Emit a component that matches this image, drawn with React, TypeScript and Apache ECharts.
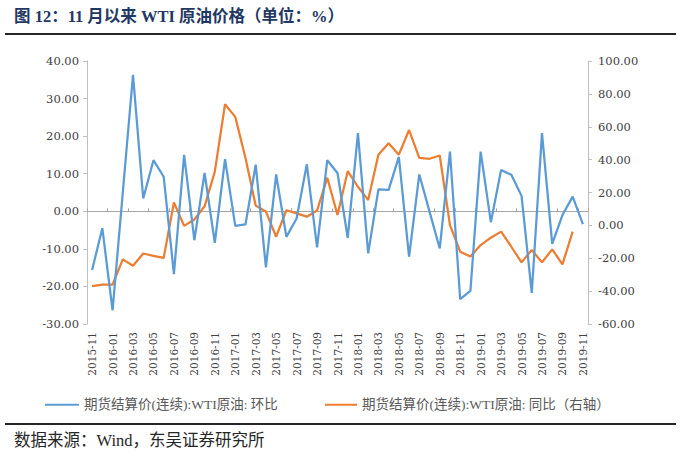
import React, { useEffect, useRef } from "react";
import * as echarts from "echarts";

const months: string[] = [
  "2015-11", "2015-12", "2016-01", "2016-02", "2016-03", "2016-04", "2016-05", "2016-06", "2016-07", "2016-08",
  "2016-09", "2016-10", "2016-11", "2016-12", "2017-01", "2017-02", "2017-03", "2017-04", "2017-05", "2017-06",
  "2017-07", "2017-08", "2017-09", "2017-10", "2017-11", "2017-12", "2018-01", "2018-02", "2018-03", "2018-04",
  "2018-05", "2018-06", "2018-07", "2018-08", "2018-09", "2018-10", "2018-11", "2018-12", "2019-01", "2019-02",
  "2019-03", "2019-04", "2019-05", "2019-06", "2019-07", "2019-08", "2019-09", "2019-10", "2019-11",
];

// 环比 (left axis)
const momChange: number[] = [
  -15.6, -4.5, -26.4, 5.0, 36.3, 3.4, 13.6, 9.2, -16.7, 15.0,
  -7.7, 10.2, -8.4, 13.9, -3.9, -3.5, 12.4, -14.9, 9.8, -6.8,
  -1.9, 12.5, -9.6, 13.6, 10.2, -7.1, 20.8, -11.2, 5.8, 5.7,
  14.5, -12.1, 9.8, -0.1, -9.9, 15.9, -23.4, -21.2, 15.9, -2.9,
  11.0, 9.7, 4.1, -21.7, 20.8, -8.7, -1.0, 3.9, -3.4,
];

// 同比 (right axis)
const yoyChange: (number | null)[] = [
  -37.0, -36.0, -36.0, -20.7, -24.6, -17.1, -18.5, -19.8, 13.9, -0.3,
  3.6, 11.6, 32.7, 73.7, 66.0, 41.0, 12.0, 8.4, -6.9, 9.2,
  7.3, 5.3, 9.0, 29.0, 6.3, 33.0, 23.5, 15.4, 43.0, 50.0,
  43.0, 58.0, 41.0, 40.5, 42.5, 0.2, -16.0, -19.0, -12.0, -7.5,
  -3.8, -13.0, -22.5, -15.0, -22.5, -14.6, -23.7, -3.8, null,
];

const leftAxisRange = { min: -30, max: 40, interval: 10 };
const rightAxisRange = { min: -60, max: 100, interval: 20 };

const seriesNames = [
  "期货结算价(连续):WTI原油: 环比",
  "期货结算价(连续):WTI原油: 同比（右轴）",
];

const titleText = "图 12：11 月以来 WTI 原油价格（单位：%）";
const sourceText = "数据来源：Wind，东吴证券研究所";

const BLUE = "#5B9BD5";
const ORANGE = "#ED7D31";
const AXIS_GRAY = "#BFBFBF";
const LABEL = "#404040";
const NUM_FONT = '"DejaVu Serif", "Liberation Serif", serif';
const CJK_FONT = '"Liberation Serif", "Noto Sans CJK SC", serif';

export default function App() {
  const ref = useRef<HTMLDivElement>(null);

  useEffect(() => {
    document.body.style.margin = "0";
    if (!ref.current) return;
    const chart = echarts.init(ref.current, undefined, { renderer: "svg" });
    const fmt = (v: number) => v.toFixed(2);
    chart.setOption({
      animation: false,
      backgroundColor: "#ffffff",
      grid: { left: 87, right: 92, top: 61, bottom: 139, containLabel: false },
      legend: [
        {
          data: [seriesNames[0]],
          left: 40,
          top: 393,
          icon: "rect",
          itemWidth: 34,
          itemHeight: 2,
          itemGap: 4,
          textStyle: { color: "#595959", fontSize: 13.5, fontFamily: CJK_FONT },
        },
        {
          data: [seriesNames[1]],
          left: 320,
          top: 393,
          icon: "rect",
          itemWidth: 32,
          itemHeight: 2,
          textStyle: { color: "#595959", fontSize: 13.5, fontFamily: CJK_FONT },
        },
      ],
      xAxis: [
        {
          type: "category",
          data: months,
          boundaryGap: true,
          position: "bottom",
          axisLine: { show: false },
          axisTick: { show: false },
          splitLine: { show: false },
          axisLabel: {
            interval: 1,
            rotate: 90,
            fontFamily: NUM_FONT,
            fontSize: 10.5,
            color: LABEL,
            margin: 8,
          },
        },
        {
          type: "category",
          data: months,
          boundaryGap: true,
          position: "bottom",
          axisLine: { show: true, onZero: true, onZeroAxisIndex: 0, lineStyle: { color: "#A6A6A6", width: 1 } },
          axisTick: { show: true, inside: true, interval: 1, length: 3, lineStyle: { color: "#A6A6A6" } },
          axisLabel: { show: false },
          splitLine: { show: false },
        },
      ],
      yAxis: [
        {
          type: "value",
          position: "left",
          min: leftAxisRange.min,
          max: leftAxisRange.max,
          interval: leftAxisRange.interval,
          axisLine: { show: true, lineStyle: { color: AXIS_GRAY } },
          axisTick: { show: true, length: 4, lineStyle: { color: AXIS_GRAY } },
          splitLine: { show: false },
          axisLabel: { formatter: fmt, fontFamily: NUM_FONT, fontSize: 11.5, color: LABEL, margin: 8 },
        },
        {
          type: "value",
          position: "right",
          min: rightAxisRange.min,
          max: rightAxisRange.max,
          interval: rightAxisRange.interval,
          axisLine: { show: true, lineStyle: { color: AXIS_GRAY } },
          axisTick: { show: true, length: 4, lineStyle: { color: AXIS_GRAY } },
          splitLine: { show: false },
          axisLabel: { formatter: fmt, fontFamily: NUM_FONT, fontSize: 11.5, color: LABEL, margin: 10 },
        },
      ],
      series: [
        {
          name: seriesNames[0],
          type: "line",
          xAxisIndex: 0,
          yAxisIndex: 0,
          data: momChange,
          symbol: "none",
          showSymbol: false,
          lineStyle: { color: BLUE, width: 2.25 },
          itemStyle: { color: BLUE },
          z: 3,
        },
        {
          name: seriesNames[1],
          type: "line",
          xAxisIndex: 0,
          yAxisIndex: 1,
          data: yoyChange,
          symbol: "none",
          showSymbol: false,
          connectNulls: false,
          lineStyle: { color: ORANGE, width: 2.25 },
          itemStyle: { color: ORANGE },
          z: 2,
        },
      ],
      graphic: [
        {
          type: "text",
          left: 14,
          top: 8,
          style: {
            text: titleText,
            fontSize: 16.5,
            fontWeight: "bold",
            fontFamily: CJK_FONT,
            fill: "#1F3864",
          },
        },
        {
          type: "rect",
          shape: { x: 5, y: 33, width: 671, height: 2 },
          style: { fill: "#262626" },
        },
        {
          type: "rect",
          shape: { x: 5, y: 423, width: 671, height: 2 },
          style: { fill: "#262626" },
        },
        {
          type: "text",
          left: 14,
          top: 432,
          style: {
            text: sourceText,
            fontSize: 16.5,
            fontFamily: CJK_FONT,
            fill: "#262626",
          },
        },
      ],
    });
    return () => chart.dispose();
  }, []);

  return (
    <div
      ref={ref}
      style={{ width: 680, height: 463, position: "absolute", left: 0, top: 0, background: "#fff" }}
    />
  );
}
